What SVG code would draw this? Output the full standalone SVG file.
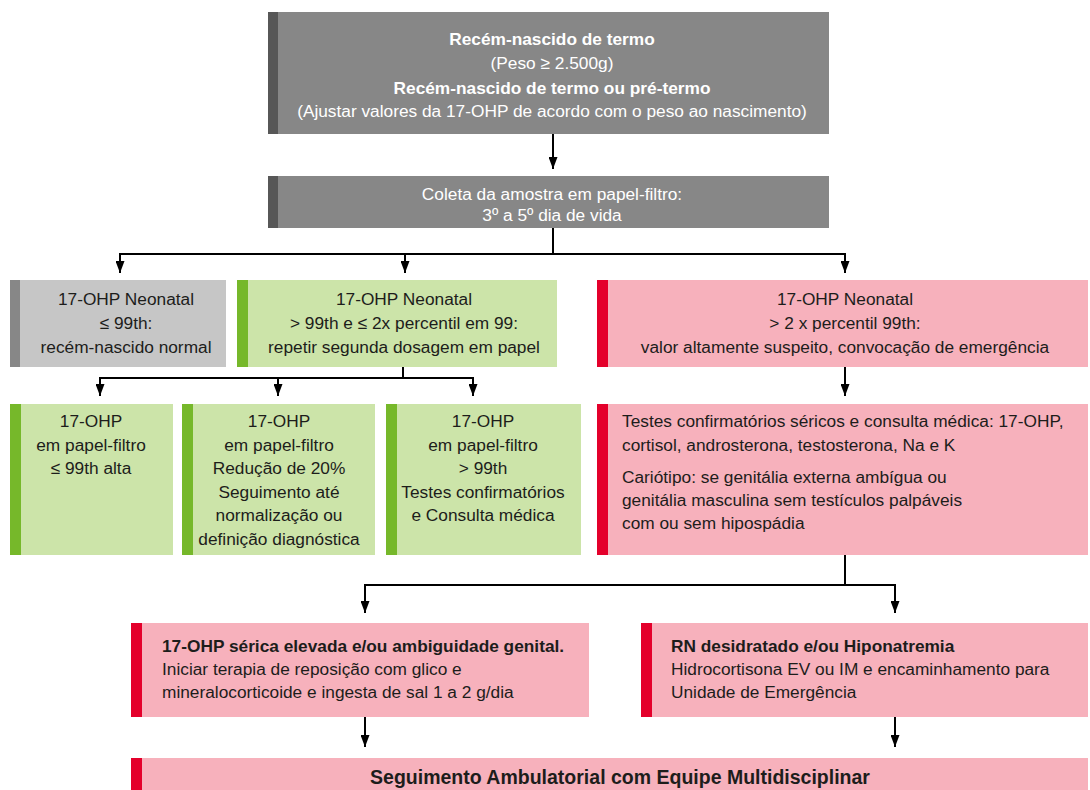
<svg xmlns="http://www.w3.org/2000/svg" width="1090" height="790" viewBox="0 0 1090 790">
<defs>
<style>
text{font-family:"Liberation Sans",Arial,sans-serif;font-size:17.3px;fill:#1d1d1b}
.w{fill:#ffffff}
.b{font-weight:bold}
.c{text-anchor:middle}
.big{font-size:19.5px}
.gray{fill:#878787}.grayBar{fill:#575757}
.lgray{fill:#c6c6c6}.lgrayBar{fill:#878787}
.green{fill:#cce4a9}.greenBar{fill:#76b82a}
.pink{fill:#f7b1bc}.pinkBar{fill:#e4002b}
.ln{fill:none;stroke:#000;stroke-width:2}
</style>
<marker id="ah" viewBox="0 0 12 9" refX="12" refY="4.5" markerWidth="12" markerHeight="9" markerUnits="userSpaceOnUse" orient="auto">
<path d="M0,0 L12,4.5 L0,9 Z" fill="#000"/>
</marker>
</defs>
<rect width="1090" height="790" fill="#ffffff"/>

<g id="connectors">
<line class="ln" x1="553" y1="134" x2="553" y2="169" marker-end="url(#ah)"/>
<polyline class="ln" points="553,228 553,254"/>
<polyline class="ln" points="120,254 845,254"/>
<line class="ln" x1="120" y1="253" x2="120" y2="273" marker-end="url(#ah)"/>
<line class="ln" x1="405" y1="254" x2="405" y2="273" marker-end="url(#ah)"/>
<line class="ln" x1="845" y1="253" x2="845" y2="273" marker-end="url(#ah)"/>
<polyline class="ln" points="403,367 403,378"/>
<polyline class="ln" points="100,378 473,378"/>
<line class="ln" x1="100" y1="377" x2="100" y2="396" marker-end="url(#ah)"/>
<line class="ln" x1="278" y1="378" x2="278" y2="396" marker-end="url(#ah)"/>
<line class="ln" x1="473" y1="377" x2="473" y2="396" marker-end="url(#ah)"/>
<line class="ln" x1="845" y1="367" x2="845" y2="396" marker-end="url(#ah)"/>
<polyline class="ln" points="845,555 845,585"/>
<polyline class="ln" points="365,585 895,585"/>
<line class="ln" x1="365" y1="584" x2="365" y2="613" marker-end="url(#ah)"/>
<line class="ln" x1="895" y1="584" x2="895" y2="613" marker-end="url(#ah)"/>
<line class="ln" x1="365" y1="717" x2="365" y2="747" marker-end="url(#ah)"/>
<line class="ln" x1="895" y1="717" x2="895" y2="747" marker-end="url(#ah)"/>
</g>

<g id="n_start">
<rect class="gray" x="268" y="12" width="561" height="122"/>
<rect class="grayBar" x="268" y="12" width="10" height="122"/>
<text class="w b c" x="552" y="45">Recém-nascido de termo</text>
<text class="w c" x="552" y="69">(Peso ≥ 2.500g)</text>
<text class="w b c" x="552" y="94">Recém-nascido de termo ou pré-termo</text>
<text class="w c" x="552" y="117">(Ajustar valores da 17-OHP de acordo com o peso ao nascimento)</text>
</g>

<g id="n_coleta">
<rect class="gray" x="268" y="176" width="561" height="52"/>
<rect class="grayBar" x="268" y="176" width="10" height="52"/>
<text class="w c" x="552" y="200">Coleta da amostra em papel-filtro:</text>
<text class="w c" x="552" y="221">3º a 5º dia de vida</text>
</g>

<g id="n_normal">
<rect class="lgray" x="10" y="280" width="216" height="87"/>
<rect class="lgrayBar" x="10" y="280" width="10" height="87"/>
<text class="c" x="126" y="305">17-OHP Neonatal</text>
<text class="c" x="126" y="329">≤ 99th:</text>
<text class="c" x="126" y="353">recém-nascido normal</text>
</g>

<g id="n_repetir">
<rect class="green" x="237" y="280" width="320" height="87"/>
<rect class="greenBar" x="237" y="280" width="11" height="87"/>
<text class="c" x="404" y="305">17-OHP Neonatal</text>
<text class="c" x="404" y="329">&gt; 99th e ≤ 2x percentil em 99:</text>
<text class="c" x="404" y="353">repetir segunda dosagem em papel</text>
</g>

<g id="n_suspeito">
<rect class="pink" x="597" y="280" width="491" height="87"/>
<rect class="pinkBar" x="597" y="280" width="11" height="87"/>
<text class="c" x="845" y="305">17-OHP Neonatal</text>
<text class="c" x="845" y="329">&gt; 2 x percentil 99th:</text>
<text class="c" x="845" y="353">valor altamente suspeito, convocação de emergência</text>
</g>

<g id="n_alta">
<rect class="green" x="10" y="404" width="163" height="151"/>
<rect class="greenBar" x="10" y="404" width="11" height="151"/>
<text class="c" x="91" y="427">17-OHP</text>
<text class="c" x="91" y="450.5">em papel-filtro</text>
<text class="c" x="91" y="474">≤ 99th alta</text>
</g>

<g id="n_reducao">
<rect class="green" x="182" y="404" width="193" height="151"/>
<rect class="greenBar" x="182" y="404" width="11" height="151"/>
<text class="c" x="279" y="427">17-OHP</text>
<text class="c" x="279" y="450.5">em papel-filtro</text>
<text class="c" x="279" y="474">Redução de 20%</text>
<text class="c" x="279" y="497.5">Seguimento até</text>
<text class="c" x="279" y="521">normalização ou</text>
<text class="c" x="279" y="544.5">definição diagnóstica</text>
</g>

<g id="n_maior">
<rect class="green" x="386" y="404" width="195" height="151"/>
<rect class="greenBar" x="386" y="404" width="11" height="151"/>
<text class="c" x="483" y="427">17-OHP</text>
<text class="c" x="483" y="450.5">em papel-filtro</text>
<text class="c" x="483" y="474">&gt; 99th</text>
<text class="c" x="483" y="497.5">Testes confirmatórios</text>
<text class="c" x="483" y="521">e Consulta médica</text>
</g>

<g id="n_testes">
<rect class="pink" x="597" y="404" width="491" height="151"/>
<rect class="pinkBar" x="597" y="404" width="11" height="151"/>
<text x="622" y="427">Testes confirmatórios séricos e consulta médica: 17-OHP,</text>
<text x="622" y="451">cortisol, androsterona, testosterona, Na e K</text>
<text x="622" y="483">Cariótipo: se genitália externa ambígua ou</text>
<text x="622" y="506">genitália masculina sem testículos palpáveis</text>
<text x="622" y="529">com ou sem hipospádia</text>
</g>

<g id="n_elevada">
<rect class="pink" x="131" y="623" width="458" height="94"/>
<rect class="pinkBar" x="131" y="623" width="11" height="94"/>
<text class="b" x="162" y="652">17-OHP sérica elevada e/ou ambiguidade genital.</text>
<text x="162" y="675">Iniciar terapia de reposição com glico e</text>
<text x="162" y="698">mineralocorticoide e ingesta de sal 1 a 2 g/dia</text>
</g>

<g id="n_desidratado">
<rect class="pink" x="641" y="623" width="447" height="94"/>
<rect class="pinkBar" x="641" y="623" width="11" height="94"/>
<text class="b" x="671" y="652">RN desidratado e/ou Hiponatremia</text>
<text x="671" y="675">Hidrocortisona EV ou IM e encaminhamento para</text>
<text x="671" y="698">Unidade de Emergência</text>
</g>

<g id="n_seguimento">
<rect class="pink" x="131" y="758" width="957" height="40"/>
<rect class="pinkBar" x="131" y="758" width="11" height="40"/>
<text class="b c big" x="620" y="784">Seguimento Ambulatorial com Equipe Multidisciplinar</text>
</g>
</svg>
